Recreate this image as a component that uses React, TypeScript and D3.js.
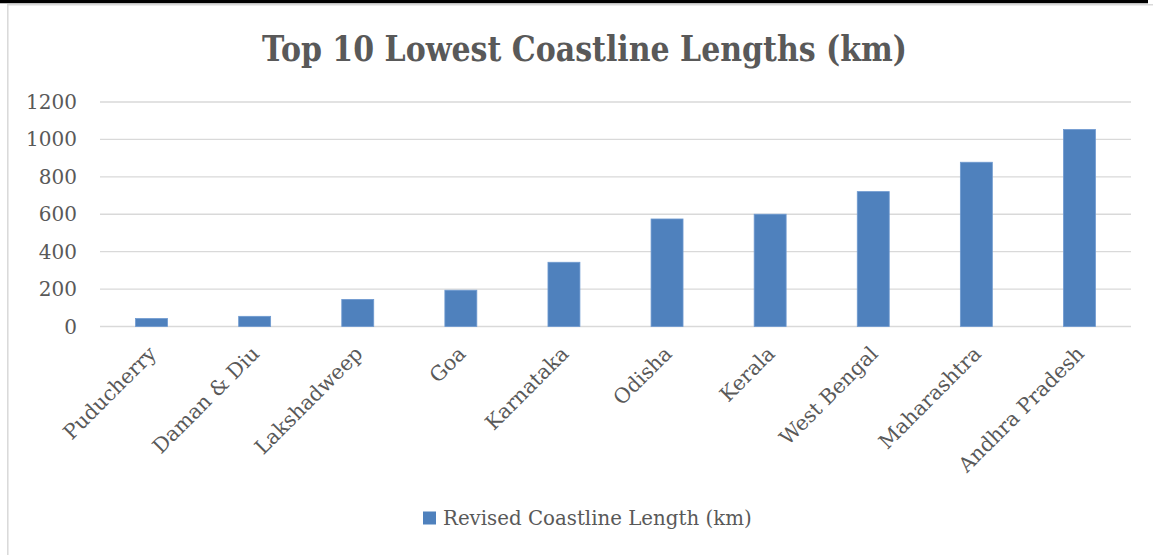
import React from "react";
import * as d3 from "d3";

const categories = [
  "Puducherry",
  "Daman & Diu",
  "Lakshadweep",
  "Goa",
  "Karnataka",
  "Odisha",
  "Kerala",
  "West Bengal",
  "Maharashtra",
  "Andhra Pradesh",
];
const coastlineKm = [42.65, 54.38, 144.8, 193.95, 343.3, 574.71, 600.15, 721.02, 877.97, 1053.07];
const yTicks = [0, 200, 400, 600, 800, 1000, 1200];
const titleText = "Top 10 Lowest Coastline Lengths (km)";
const seriesName = "Revised Coastline Length (km)";

const W = 1153;
const H = 555;
const plotLeft = 100;
const plotRight = 1131;
const plotTop = 102;
const plotBottom = 326.5;
const serif = "'DejaVu Serif', 'Liberation Serif', serif";
const textColor = "#595959";
const barColor = "#4F81BD";

export default function App() {
  const x = d3.scaleBand<string>().domain(categories).range([plotLeft, plotRight]).paddingInner(0).paddingOuter(0);
  const y = d3.scaleLinear().domain([0, 1200]).range([plotBottom, plotTop]);
  const barW = x.bandwidth() * 0.31;

  return (
    <div style={{ position: "fixed", left: 0, top: 0 }}>
      <svg width={W} height={H} style={{ display: "block", background: "#fff" }}>
        <rect x={0} y={0} width={W} height={H} fill="#fff" />
        {/* frame */}
        <line x1={0} x2={1148} y1={1.5} y2={1.5} stroke="#000" strokeWidth={3.5} />
        <line x1={7} x2={W} y1={4.8} y2={4.8} stroke="#d9d9d9" strokeWidth={1.5} />
        <line x1={7.8} x2={7.8} y1={4} y2={H} stroke="#d9d9d9" strokeWidth={1.5} />

        {/* title */}
        <text
          x={584.5}
          y={61}
          textAnchor="middle"
          fontFamily={serif}
          fontWeight="bold"
          fontSize={36}
          fill={textColor}
          textLength={645}
          lengthAdjust="spacingAndGlyphs"
        >
          {titleText}
        </text>

        {/* gridlines */}
        {yTicks.map((t) => (
          <line
            key={"g" + t}
            x1={plotLeft}
            x2={plotRight}
            y1={y(t)}
            y2={y(t)}
            stroke="#d9d9d9"
            strokeWidth={1.4}
          />
        ))}
        {/* y tick labels */}
        {yTicks.map((t) => (
          <text
            key={"t" + t}
            x={77}
            y={y(t) + 7}
            textAnchor="end"
            fontFamily={serif}
            fontSize={20}
            fill={textColor}
          >
            {t}
          </text>
        ))}

        {/* bars */}
        {categories.map((c, i) => {
          const cx = (x(c) as number) + x.bandwidth() / 2;
          return (
            <rect
              key={"b" + c}
              x={cx - barW / 2}
              y={y(coastlineKm[i])}
              width={barW}
              height={y(0) - y(coastlineKm[i])}
              fill={barColor}
              stroke="#6f9ad0"
              strokeWidth={0.8}
            />
          );
        })}

        {/* category labels */}
        {categories.map((c) => {
          const cx = (x(c) as number) + x.bandwidth() / 2;
          const ax = cx + 6;
          const ay = 355;
          return (
            <text
              key={"c" + c}
              x={ax}
              y={ay}
              transform={`rotate(-45 ${ax} ${ay})`}
              textAnchor="end"
              fontFamily={serif}
              fontSize={20.5}
              fill={textColor}
            >
              {c}
            </text>
          );
        })}

        {/* legend */}
        <rect x={423} y={511.5} width={13} height={13} fill={barColor} />
        <text x={443} y={525} fontFamily={serif} fontSize={19.8} fill={textColor}>
          {seriesName}
        </text>
      </svg>
    </div>
  );
}
